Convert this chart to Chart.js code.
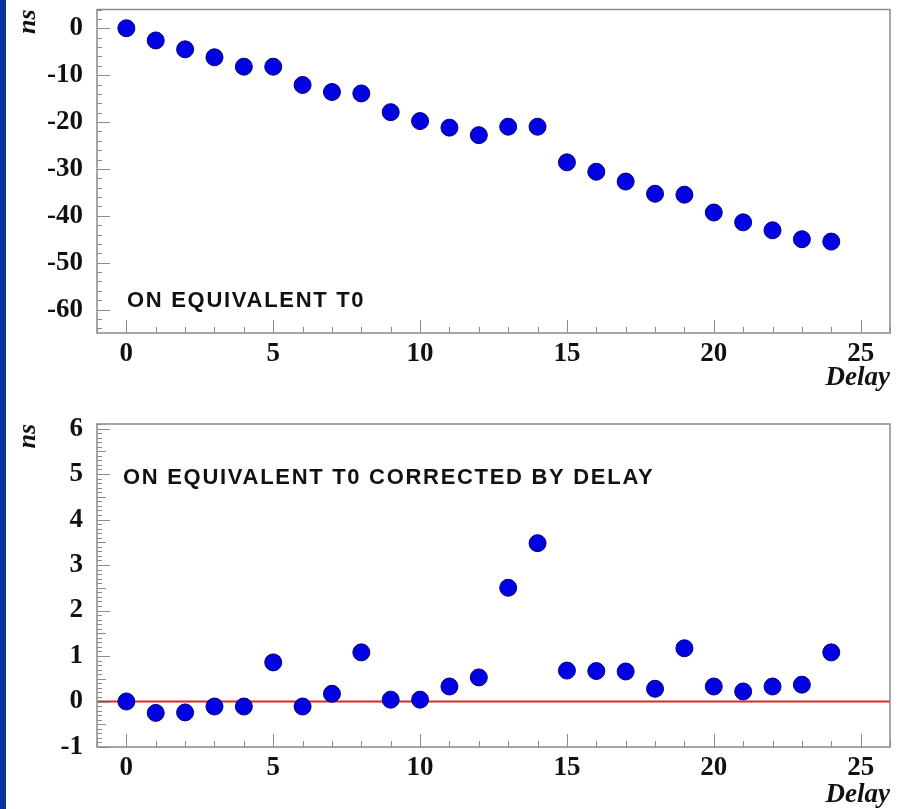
<!DOCTYPE html>
<html>
<head>
<meta charset="utf-8">
<title>Equivalent T0 vs delay</title>
<script src="https://cdn.jsdelivr.net/npm/chart.js@4.4.1/dist/chart.umd.min.js"></script>
<style>
    body { margin: 0; background: #fff; width: 905px; height: 809px; overflow: hidden; position: relative; }
    #strip { position: absolute; left: 0; top: 0; width: 6px; height: 809px; background: #0536a0; }
    #topChart { position: absolute; left: 0; top: 0; }
    #bottomChart { position: absolute; left: 0; top: 400px; }
</style>
</head>
<body>
<div id="strip"></div>
<canvas id="topChart" width="905" height="400"></canvas>
<canvas id="bottomChart" width="905" height="409"></canvas>
<script>
const delays = [0, 1, 2, 3, 4, 5, 6, 7, 8, 9, 10, 11, 12, 13, 14, 15, 16, 17, 18, 19, 20, 21, 22, 23, 24];
const t0Equivalent = [0, -2.6, -4.5, -6.2, -8.2, -8.2, -12.1, -13.6, -13.9, -17.9, -19.8, -21.2, -22.8, -21.0, -21.0,
    -28.6, -30.6, -32.7, -35.3, -35.5, -39.3, -41.4, -43.1, -45.0, -45.5];
const t0Corrected = [0, -0.25, -0.24, -0.11, -0.11, 0.86, -0.11, 0.17, 1.08, 0.04, 0.04, 0.33, 0.53, 2.5, 3.48,
    0.68, 0.67, 0.66, 0.28, 1.17, 0.33, 0.22, 0.33, 0.37, 1.08];
const xTicks = [0, 5, 10, 15, 20, 25];
const topYTicks = [0, -10, -20, -30, -40, -50, -60];
const bottomYTicks = [-1, 0, 1, 2, 3, 4, 5, 6];
const refLevel = 0;

const serif = "'Liberation Serif', 'Times New Roman', serif";
const sans = "'Liberation Sans', Arial, sans-serif";

// frame around the plot + ROOT style ticks pointing inwards
const frameTicks = {
    id: 'frameTicks',
    afterDraw(chart, args, opts) {
        const { ctx, chartArea: a, scales: { x, y } } = chart;
        ctx.save();
        ctx.strokeStyle = '#8a8a8a';
        ctx.lineWidth = 1.5;
        ctx.strokeRect(a.left, a.top, a.right - a.left, a.bottom - a.top);
        ctx.lineWidth = 1;
        ctx.beginPath();
        for (let v = Math.ceil(x.min); v <= x.max; v++) {
            const px = Math.round(x.getPixelForValue(v)) + 0.5;
            const len = v % 5 === 0 ? 13 : 6;
            ctx.moveTo(px, a.bottom);
            ctx.lineTo(px, a.bottom - len);
        }
        const n0 = Math.ceil(y.min / opts.minor - 1e-6);
        const n1 = Math.floor(y.max / opts.minor + 1e-6);
        for (let i = n0; i <= n1; i++) {
            const py = Math.round(y.getPixelForValue(i * opts.minor)) + 0.5;
            let len = 5;
            if (i % opts.majorEvery === 0) len = 13;
            else if (opts.mediumEvery && i % opts.mediumEvery === 0) len = 9;
            ctx.moveTo(a.left, py);
            ctx.lineTo(a.left + len, py);
        }
        ctx.stroke();
        ctx.restore();
    }
};

const refLine = {
    id: 'refLine',
    beforeDatasetsDraw(chart, args, opts) {
        if (!opts.show) return;
        const { ctx, chartArea: a, scales: { y } } = chart;
        const py = y.getPixelForValue(refLevel);
        ctx.save();
        ctx.strokeStyle = '#d42a2a';
        ctx.lineWidth = 2;
        ctx.beginPath();
        ctx.moveTo(a.left, py);
        ctx.lineTo(a.right, py);
        ctx.stroke();
        ctx.restore();
    }
};

const label = {
    id: 'label',
    afterDraw(chart, args, opts) {
        const { ctx, chartArea: a } = chart;
        ctx.save();
        ctx.font = "bold 22px " + sans;
        ctx.letterSpacing = '1.7px';
        ctx.fillStyle = '#111';
        ctx.textBaseline = 'middle';
        ctx.fillText(opts.text, a.left + opts.dx, a.top + opts.dy);
        ctx.restore();
    }
};

function makePanel(id, values, yMin, yMax, yTicks, cfg) {
    return new Chart(document.getElementById(id).getContext('2d'), {
        type: 'scatter',
        data: {
            datasets: [{
                data: delays.map((d, i) => ({ x: d, y: values[i] })),
                backgroundColor: '#0000e2',
                borderColor: '#000078',
                borderWidth: 1,
                pointRadius: 8.5,
                pointHoverRadius: 8.5,
            }],
        },
        options: {
            responsive: false,
            animation: false,
            events: [],
            layout: { padding: { top: cfg.padTop, right: 15, left: 0, bottom: 0 } },
            plugins: {
                legend: { display: false },
                tooltip: { enabled: false },
                frameTicks: cfg.ticks,
                refLine: { show: cfg.refLine },
                label: cfg.label,
            },
            scales: {
                x: {
                    type: 'linear',
                    min: -1,
                    max: 26,
                    afterBuildTicks: s => { s.ticks = xTicks.map(v => ({ value: v })); },
                    afterFit: s => { s.height = cfg.xHeight; s.paddingLeft = 0; s.paddingRight = 0; },
                    grid: { display: false, drawTicks: false },
                    border: { display: false },
                    ticks: {
                        font: { family: serif, size: 27, weight: 'bold' },
                        color: '#111',
                        padding: cfg.xPad,
                        maxRotation: 0,
                        autoSkip: false,
                    },
                    title: {
                        display: true,
                        text: 'Delay',
                        align: 'end',
                        color: '#111',
                        font: { family: serif, size: 27, weight: 'bold', style: 'italic', lineHeight: 1 },
                        padding: { top: 0, bottom: cfg.titlePad },
                    },
                },
                y: {
                    min: yMin,
                    max: yMax,
                    afterBuildTicks: s => { s.ticks = yTicks.map(v => ({ value: v })); },
                    afterFit: s => { s.width = 97; s.paddingTop = 0; s.paddingBottom = 0; },
                    grid: { display: false, drawTicks: false },
                    border: { display: false },
                    ticks: {
                        font: { family: serif, size: 27, weight: 'bold' },
                        color: '#111',
                        padding: 14,
                        autoSkip: false,
                    },
                    title: {
                        display: true,
                        text: 'ns',
                        align: 'end',
                        color: '#111',
                        font: { family: serif, size: 26, weight: 'bold', style: 'italic', lineHeight: 1 },
                        padding: { top: 15, bottom: 0 },
                    },
                },
            },
        },
        plugins: [frameTicks, refLine, label],
    });
}

document.addEventListener("DOMContentLoaded", function () {
    makePanel('topChart', t0Equivalent, -65, 4, topYTicks, {
        padTop: 9, xHeight: 67, xPad: 5, titlePad: 8,
        refLine: false,
        ticks: { minor: 2, majorEvery: 5, mediumEvery: 0 },
        label: { text: 'ON EQUIVALENT T0', dx: 30, dy: 291 },
    });
    makePanel('bottomChart', t0Corrected, -1, 6.1, bottomYTicks, {
        padTop: 24, xHeight: 62, xPad: 5, titlePad: 0,
        refLine: true,
        ticks: { minor: 0.1, majorEvery: 10, mediumEvery: 5 },
        label: { text: 'ON EQUIVALENT T0 CORRECTED BY DELAY', dx: 26, dy: 54 },
    });
});
</script>
</body>
</html>
